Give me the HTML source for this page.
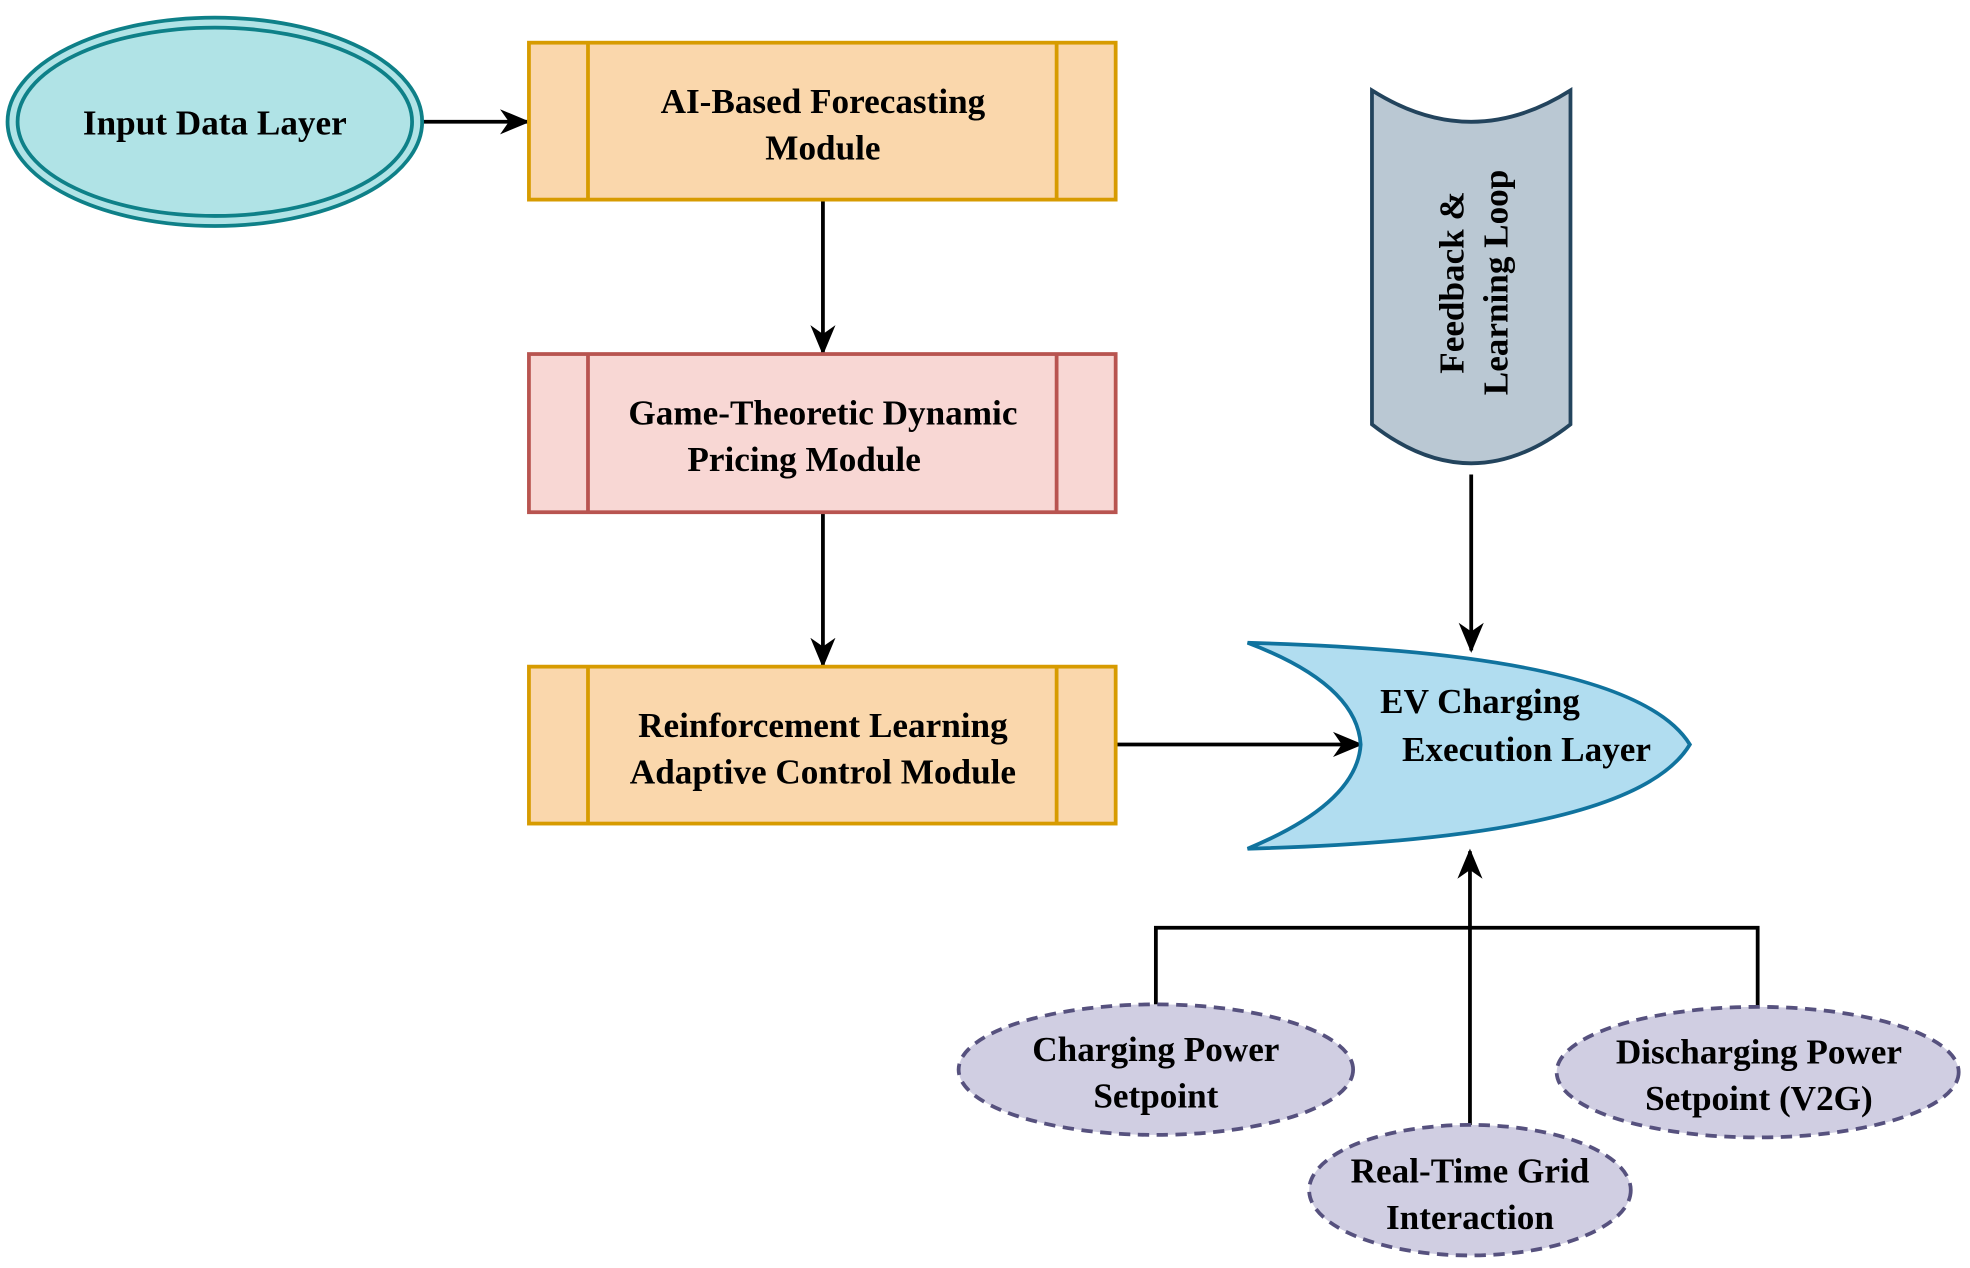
<!DOCTYPE html>
<html><head><meta charset="utf-8"><style>html,body{margin:0;padding:0;background:#fff}svg{display:block}</style></head>
<body>
<svg width="1970" height="1268" viewBox="0 0 1568 1010" preserveAspectRatio="none" xmlns="http://www.w3.org/2000/svg" font-family="Liberation Serif, serif" font-weight="bold" font-size="28" text-anchor="middle">
<defs>
<marker id="b" markerWidth="24" markerHeight="24" refX="22" refY="12" orient="auto" markerUnits="userSpaceOnUse" viewBox="0 0 24 24"><path d="M0,2 L24,12 L0,22 L7,12 Z" fill="#000"/></marker></defs>
<g stroke="#000" stroke-width="3" fill="none">
<line x1="337" y1="97" x2="420" y2="97" marker-end="url(#b)"/>
<line x1="655" y1="159" x2="655" y2="281" marker-end="url(#b)"/>
<line x1="655" y1="408" x2="655" y2="530" marker-end="url(#b)"/>
<line x1="888" y1="593" x2="1083" y2="593" marker-end="url(#b)"/>
<line x1="1171" y1="378" x2="1171" y2="518" marker-end="url(#b)"/>
<polyline points="920,800 920,739 1399,739 1399,802"/>
<line x1="1170" y1="897" x2="1170" y2="678" marker-end="url(#b)"/>
</g>
<ellipse cx="171" cy="97" rx="165" ry="83" fill="#b0e3e6" stroke="#0e8088" stroke-width="3"/>
<ellipse cx="171" cy="97" rx="157" ry="75" fill="none" stroke="#0e8088" stroke-width="3"/>
<text x="171" y="107">Input Data Layer</text>
<g stroke-width="3">
<rect x="421" y="34" width="467" height="125" fill="#fad7ac" stroke="#d79b00"/>
<line x1="468" y1="34" x2="468" y2="159" stroke="#d79b00"/><line x1="841" y1="34" x2="841" y2="159" stroke="#d79b00"/>
<rect x="421" y="282" width="467" height="126" fill="#f8d7d4" stroke="#b85450"/>
<line x1="468" y1="282" x2="468" y2="408" stroke="#b85450"/><line x1="841" y1="282" x2="841" y2="408" stroke="#b85450"/>
<rect x="421" y="531" width="467" height="125" fill="#fad7ac" stroke="#d79b00"/>
<line x1="468" y1="531" x2="468" y2="656" stroke="#d79b00"/><line x1="841" y1="531" x2="841" y2="656" stroke="#d79b00"/>
</g>
<text x="655" y="90">AI-Based Forecasting</text><text x="655" y="127">Module</text>
<text x="655" y="338">Game-Theoretic Dynamic</text><text x="640" y="375">Pricing Module</text>
<text x="655" y="587">Reinforcement Learning</text><text x="655" y="624">Adaptive Control Module</text>
<path d="M993,512 Q1300,520 1345,593 Q1300,668 993,676 Q1080,640 1083,593 Q1080,545 993,512 Z" fill="#b1ddf0" stroke="#10739e" stroke-width="3"/>
<text x="1178" y="568">EV Charging</text><text x="1215" y="606">Execution Layer</text>
<path d="M1092,72 Q1171,122 1250,72 L1250,338 Q1171,400 1092,338 Z" fill="#bac8d3" stroke="#23445d" stroke-width="3"/>
<text transform="translate(1165,225) rotate(-90)">Feedback &amp;</text>
<text transform="translate(1200,225) rotate(-90)">Learning Loop</text>
<g fill="#d0cee2" stroke="#56517e" stroke-width="3" stroke-dasharray="9,6">
<ellipse cx="920" cy="852" rx="157" ry="52"/>
<ellipse cx="1399" cy="854" rx="160" ry="52"/>
<ellipse cx="1170" cy="948" rx="128" ry="52"/>
</g>
<text x="920" y="845">Charging Power</text><text x="920" y="882">Setpoint</text>
<text x="1400" y="847">Discharging Power</text><text x="1400" y="884">Setpoint (V2G)</text>
<text x="1170" y="942">Real-Time Grid</text><text x="1170" y="979">Interaction</text>
</svg>
</body></html>
